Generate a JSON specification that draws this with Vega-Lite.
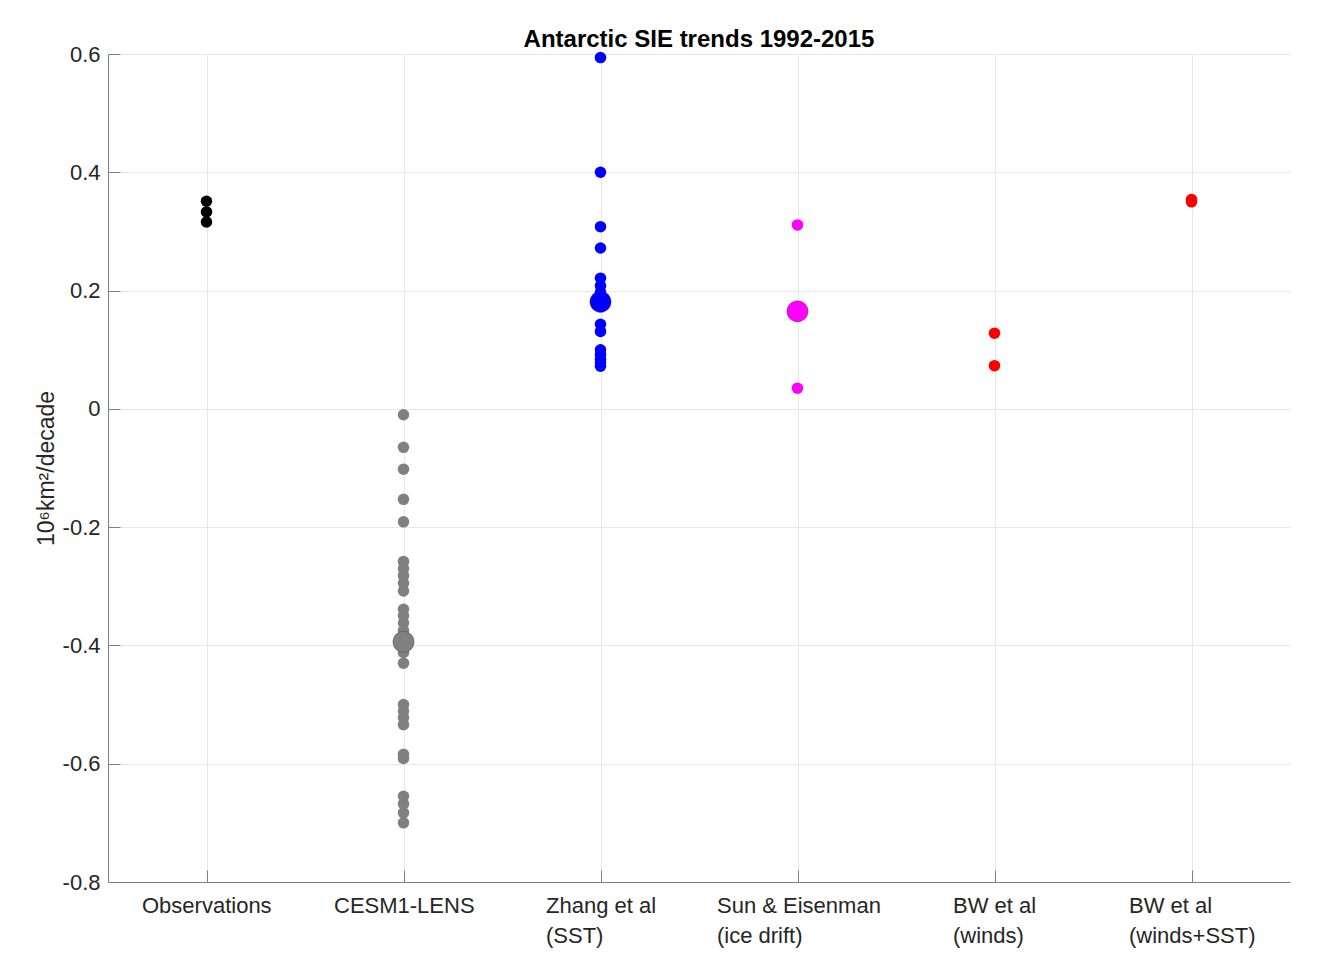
{
  "$schema": "https://vega.github.io/schema/vega-lite/v6.json",
  "width": 1182,
  "height": 828,
  "autosize": {"type": "none"},
  "padding": {"left": 108, "top": 54, "right": 29, "bottom": 84},
  "background": "white",
  "title": {"text": "Antarctic SIE trends 1992-2015", "fontSize": 24, "fontWeight": "bold", "color": "#000000", "offset": -9, "font": "Liberation Sans"},
  "config": {"font": "Liberation Sans", "view": {"stroke": null}},
  "data": {"values": [
    {"g": "Observations", "v": 0.351, "t": "member"},
    {"g": "Observations", "v": 0.333, "t": "member"},
    {"g": "Observations", "v": 0.316, "t": "member"},
    {"g": "CESM1-LENS", "v": -0.010, "t": "member"},
    {"g": "CESM1-LENS", "v": -0.065, "t": "member"},
    {"g": "CESM1-LENS", "v": -0.102, "t": "member"},
    {"g": "CESM1-LENS", "v": -0.153, "t": "member"},
    {"g": "CESM1-LENS", "v": -0.191, "t": "member"},
    {"g": "CESM1-LENS", "v": -0.258, "t": "member"},
    {"g": "CESM1-LENS", "v": -0.270, "t": "member"},
    {"g": "CESM1-LENS", "v": -0.282, "t": "member"},
    {"g": "CESM1-LENS", "v": -0.295, "t": "member"},
    {"g": "CESM1-LENS", "v": -0.308, "t": "member"},
    {"g": "CESM1-LENS", "v": -0.339, "t": "member"},
    {"g": "CESM1-LENS", "v": -0.350, "t": "member"},
    {"g": "CESM1-LENS", "v": -0.362, "t": "member"},
    {"g": "CESM1-LENS", "v": -0.375, "t": "member"},
    {"g": "CESM1-LENS", "v": -0.412, "t": "member"},
    {"g": "CESM1-LENS", "v": -0.430, "t": "member"},
    {"g": "CESM1-LENS", "v": -0.500, "t": "member"},
    {"g": "CESM1-LENS", "v": -0.511, "t": "member"},
    {"g": "CESM1-LENS", "v": -0.522, "t": "member"},
    {"g": "CESM1-LENS", "v": -0.534, "t": "member"},
    {"g": "CESM1-LENS", "v": -0.584, "t": "member"},
    {"g": "CESM1-LENS", "v": -0.591, "t": "member"},
    {"g": "CESM1-LENS", "v": -0.655, "t": "member"},
    {"g": "CESM1-LENS", "v": -0.668, "t": "member"},
    {"g": "CESM1-LENS", "v": -0.683, "t": "member"},
    {"g": "CESM1-LENS", "v": -0.700, "t": "member"},
    {"g": "CESM1-LENS", "v": -0.394, "t": "mean"},
    {"g": "Zhang et al|(SST)", "v": 0.594, "t": "member"},
    {"g": "Zhang et al|(SST)", "v": 0.400, "t": "member"},
    {"g": "Zhang et al|(SST)", "v": 0.308, "t": "member"},
    {"g": "Zhang et al|(SST)", "v": 0.272, "t": "member"},
    {"g": "Zhang et al|(SST)", "v": 0.221, "t": "member"},
    {"g": "Zhang et al|(SST)", "v": 0.208, "t": "member"},
    {"g": "Zhang et al|(SST)", "v": 0.197, "t": "member"},
    {"g": "Zhang et al|(SST)", "v": 0.143, "t": "member"},
    {"g": "Zhang et al|(SST)", "v": 0.131, "t": "member"},
    {"g": "Zhang et al|(SST)", "v": 0.100, "t": "member"},
    {"g": "Zhang et al|(SST)", "v": 0.092, "t": "member"},
    {"g": "Zhang et al|(SST)", "v": 0.084, "t": "member"},
    {"g": "Zhang et al|(SST)", "v": 0.078, "t": "member"},
    {"g": "Zhang et al|(SST)", "v": 0.072, "t": "member"},
    {"g": "Zhang et al|(SST)", "v": 0.181, "t": "mean"},
    {"g": "Sun & Eisenman|(ice drift)", "v": 0.311, "t": "member"},
    {"g": "Sun & Eisenman|(ice drift)", "v": 0.035, "t": "member"},
    {"g": "Sun & Eisenman|(ice drift)", "v": 0.165, "t": "mean"},
    {"g": "BW et al|(winds)", "v": 0.128, "t": "member"},
    {"g": "BW et al|(winds)", "v": 0.073, "t": "member"},
    {"g": "BW et al|(winds+SST)", "v": 0.350, "t": "member"},
    {"g": "BW et al|(winds+SST)", "v": 0.354, "t": "member"}
  ]},
  "encoding": {
    "x": {
      "field": "g",
      "type": "nominal",
      "scale": {"type": "point", "padding": 0.5, "domain": ["Observations", "CESM1-LENS", "Zhang et al|(SST)", "Sun & Eisenman|(ice drift)", "BW et al|(winds)", "BW et al|(winds+SST)"]},
      "axis": {
        "title": null,
        "labelExpr": "split(datum.label, '|')",
        "labelAngle": 0,
        "labelAlign": "left",
        "labelBaseline": "top",
        "labelOffset": {"condition": [
          {"test": "datum.value == 'Observations'", "value": -65},
          {"test": "datum.value == 'CESM1-LENS'", "value": -70},
          {"test": "datum.value == 'Zhang et al|(SST)'", "value": -55},
          {"test": "datum.value == 'Sun & Eisenman|(ice drift)'", "value": -81},
          {"test": "datum.value == 'BW et al|(winds)'", "value": -42}
        ], "value": -63},
        "labelFontSize": 22,
        "labelColor": "#262626",
        "labelLineHeight": 30,
        "labelPadding": 25,
        "labelOverlap": false,
        "labelBound": false,
        "labelLimit": 0,
        "tickSize": -12,
        "tickColor": "#808080",
        "domainColor": "#808080",
        "grid": true,
        "gridColor": "#e8e8e8"
      }
    },
    "y": {
      "field": "v",
      "type": "quantitative",
      "scale": {"domain": [-0.8, 0.6], "nice": false, "zero": false},
      "axis": {
        "values": [-0.8, -0.6, -0.4, -0.2, 0, 0.2, 0.4, 0.6],
        "labelExpr": "datum.value == 0 ? '0' : (datum.value < 0 ? '-' : '') + format(abs(datum.value), '.1f')",
        "title": "10⁶km²/decade",
        "titleFontSize": 23,
        "titleFontWeight": "normal",
        "titleColor": "#262626",
        "titlePadding": 4,
        "labelFontSize": 22,
        "labelColor": "#262626",
        "labelPadding": 20,
        "tickSize": -12,
        "tickColor": "#808080",
        "domainColor": "#808080",
        "grid": true,
        "gridColor": "#e8e8e8"
      }
    },
    "color": {
      "field": "g",
      "type": "nominal",
      "scale": {"domain": ["Observations", "CESM1-LENS", "Zhang et al|(SST)", "Sun & Eisenman|(ice drift)", "BW et al|(winds)", "BW et al|(winds+SST)"], "range": ["#000000", "#808080", "#0000ff", "#ff00ff", "#ff0000", "#ff0000"]},
      "legend": null
    }
  },
  "layer": [
    {"transform": [{"filter": "datum.t == 'member'"}], "mark": {"type": "circle", "size": 133, "opacity": 1}},
    {"transform": [{"filter": "datum.t == 'mean'"}], "mark": {"type": "circle", "size": 452, "opacity": 1, "stroke": "#333333", "strokeOpacity": 0.35, "strokeWidth": 1}}
  ]
}
